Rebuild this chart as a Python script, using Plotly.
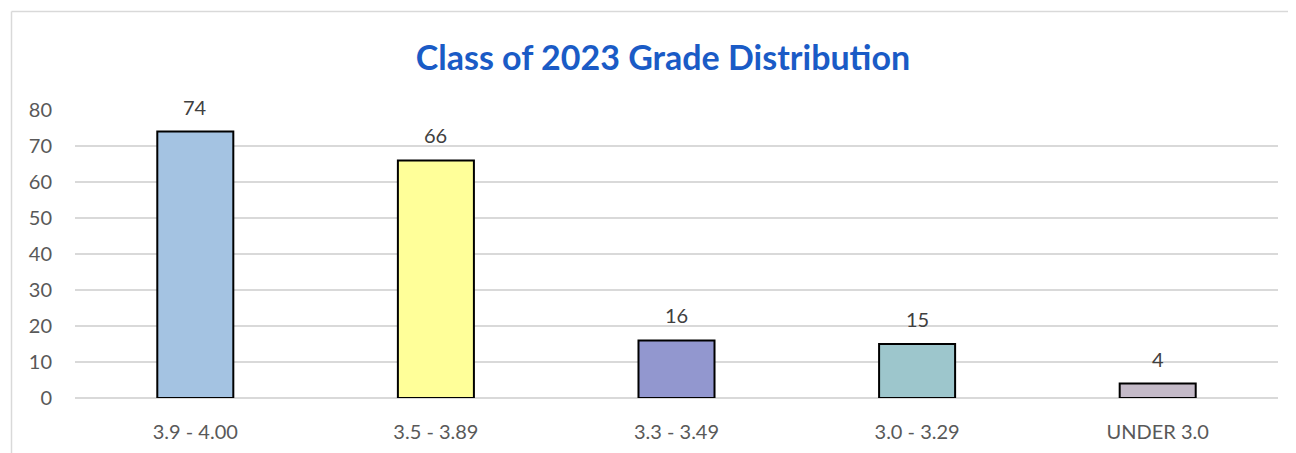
import plotly.graph_objects as go

categories = ["3.9 - 4.00", "3.5 - 3.89", "3.3 - 3.49", "3.0 - 3.29", "UNDER 3.0"]
counts = [74, 66, 16, 15, 4]
bar_colors = ["#A4C3E2", "#FFFF99", "#9297CF", "#9DC6CC", "#C4BAC8"]
y_ticks = [0, 10, 20, 30, 40, 50, 60, 70, 80]
title_text = "Class of 2023 Grade Distribution"

FONT = "Lato, Carlito, sans-serif"
OFF = 8  # page body margin
W, H = 1296, 453
L, R, T, B = 75 - OFF, 18 + OFF, 110 - OFF, 55 + OFF
pw, ph = W - L - R, H - T - B

def px_to_paper_x(px):
    return (px - OFF - L) / pw

def px_to_paper_y(py):
    return (H - B - (py - OFF)) / ph

fig = go.Figure()
fig.add_trace(go.Bar(
    x=categories, y=counts,
    marker=dict(color=bar_colors, line=dict(color="#000000", width=2)),
    width=0.316,
    hoverinfo="x+y",
))

for c, v in zip(categories, counts):
    fig.add_annotation(x=c, y=v, text=str(v), showarrow=False,
                       yanchor="middle", yshift=25,
                       font=dict(family=FONT, size=20, color="#404040"))

fig.update_layout(
    width=W, height=H,
    margin=dict(l=L, r=R, t=T, b=B),
    paper_bgcolor="white", plot_bgcolor="white",
    showlegend=False,
    title=dict(text="<b>" + title_text + "</b>", x=(663 - OFF) / W, xanchor="center",
               y=1 - (58 - OFF) / H, yanchor="middle",
               font=dict(family=FONT, size=34, color="#1A5BC6")),
    xaxis=dict(showgrid=False, showline=False, zeroline=False,
               tickfont=dict(family=FONT, size=20, color="#595959"),
               ticks="", ticklabelstandoff=20),
    yaxis=dict(range=[0, 80], tickvals=y_ticks, showgrid=True, gridcolor="#D9D9D9", gridwidth=1.5,
               zeroline=True, zerolinecolor="#D9D9D9", zerolinewidth=1.5, showline=False,
               tickfont=dict(family=FONT, size=20, color="#595959"),
               ticks="", ticklabelstandoff=22),
    bargap=0.684,
    shapes=[
        dict(type="line", xref="paper", yref="paper",
             x0=px_to_paper_x(11.5), x1=px_to_paper_x(W + 20),
             y0=px_to_paper_y(11.5), y1=px_to_paper_y(11.5),
             line=dict(color="#D9D9D9", width=1.5)),
        dict(type="line", xref="paper", yref="paper",
             x0=px_to_paper_x(11.5), x1=px_to_paper_x(11.5),
             y0=px_to_paper_y(11.5), y1=px_to_paper_y(H + 20),
             line=dict(color="#D9D9D9", width=1.5)),
    ],
)

fig.write_html("out.html")
